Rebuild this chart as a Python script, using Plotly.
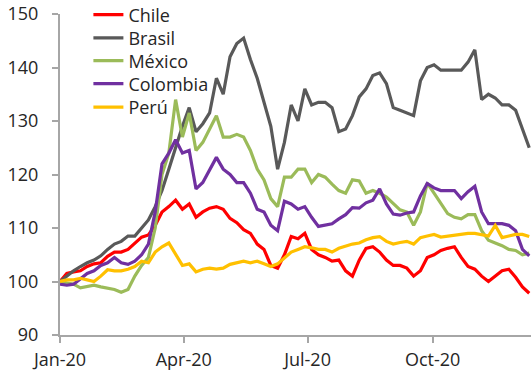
import pandas as pd
import plotly.graph_objects as go

# sampling grid: every 5 days from 1 Jan 2020
dates = pd.date_range("2020-01-01", periods=70, freq="5D")

chile = [100, 101.5, 101.8, 102, 102.8, 103.3, 103.5, 104.7, 105.5, 105.5,
         106, 107.2, 108.3, 108.7, 110.5, 113, 114, 115.2, 113.5, 114.5,
         112, 113, 113.7, 114, 113.5, 111.8, 111, 109.7, 109, 107,
         106, 103, 102.5, 105, 108.4, 108, 109, 106, 105, 104.5,
         103.8, 104, 102, 101, 104, 106.2, 106.5, 105.5, 104, 103,
         103, 102.5, 101, 102, 104.5, 105, 105.8, 106.2, 106.5, 104.5,
         102.8, 102.3, 101, 100, 101, 102, 102.3, 100.8, 99, 97.8]

brasil = [100, 101, 102, 102.8, 103.5, 104, 104.8, 106, 107, 107.5,
          108.5, 108.5, 110, 111.5, 114, 117, 121, 125, 129, 132.5,
          128, 129.5, 131.5, 138, 135, 142, 144.5, 145.5, 141.5, 138,
          133.5, 129, 121, 126, 133, 130, 136, 133, 133.5, 133.5,
          132.5, 128, 128.5, 131, 134.5, 136, 138.5, 139, 137, 132.5,
          132, 131.5, 131, 137.5, 140, 140.5, 139.5, 139.5, 139.5, 139.5,
          141, 143.3, 134, 135, 134.3, 133, 133, 132, 128.5, 125]

mexico = [100, 99.8, 99.5, 98.8, 99, 99.3, 99, 98.7, 98.5, 98,
          98.5, 101, 103, 104.5, 110, 120, 124, 134, 127, 131.5,
          124.5, 126, 128.5, 131, 127, 127, 127.5, 127, 124.5, 121,
          119, 115.5, 114, 119.5, 119.5, 121, 121, 118.5, 120, 119.5,
          118.2, 117, 116.5, 119, 118.8, 116.5, 117, 116.5, 115.8, 114.6,
          113.4, 113, 110.5, 113, 118.4, 116.5, 114.5, 112.7, 112, 111.7,
          112.5, 112.5, 109.5, 107.7, 107.2, 106.7, 106, 105.8, 105, 105.3]

colombia = [99.5, 99.3, 99.5, 100.5, 101.5, 102, 103, 103.5, 104.5, 103.5,
            103.2, 103.8, 105, 107, 113, 122, 124, 126.5, 124, 124.5,
            117.3, 118.5, 121, 123.2, 121, 120, 118.5, 118.5, 116.5, 113.5,
            113, 110.5, 109.5, 115, 114.5, 113.5, 114, 112, 110.3, 110.5,
            110.8, 111.7, 112.5, 113.8, 113.7, 114.7, 115.2, 117.3, 114.5, 112.6,
            112.4, 112.8, 113, 116, 118.3, 117.5, 117, 117, 117, 115.5,
            116.8, 117.8, 113, 110.8, 110.8, 110.8, 110.5, 109.5, 106, 104.8]

peru = [100, 100.3, 100.3, 100.6, 100.3, 100, 101, 102.2, 102, 102,
        102.3, 102.8, 103.8, 103.5, 105.5, 106.5, 107.2, 105, 103, 103.3,
        101.8, 102.3, 102.5, 102.3, 102.5, 103.2, 103.5, 103.8, 103.5, 103.8,
        103.3, 102.8, 103.3, 104.5, 105.5, 106, 106.5, 106.3, 106, 106,
        105.5, 106.2, 106.6, 107, 107.2, 107.8, 108.2, 108.4, 107.5, 107,
        107.3, 107.5, 107, 108.2, 108.5, 108.8, 108.3, 108.5, 108.7, 108.9,
        109, 109, 108.7, 108.5, 110.5, 108.2, 108.5, 108.8, 108.8, 108.4]

names = ["Chile", "Brasil", "México", "Colombia", "Perú"]
values = [chile, brasil, mexico, colombia, peru]
colors = ["#FF0000", "#595959", "#9BBB59", "#7030A0", "#FFC000"]

tick_vals = ["2020-01-01", "2020-04-01", "2020-07-01", "2020-10-01"]
tick_text = ["Jan-20", "Apr-20", "Jul-20", "Oct-20"]
y_ticks = [90, 100, 110, 120, 130, 140, 150]

font = dict(family="Open Sans, sans-serif", size=18, color="#262626")

# one single-entry legend per series so the entries sit as tightly as in the original
legend_y = [0.997, 0.925, 0.854, 0.782, 0.709]
legend_ids = ["legend", "legend2", "legend3", "legend4", "legend5"]

fig = go.Figure()
for name, vals, color, lid in zip(names, values, colors, legend_ids):
    fig.add_trace(go.Scatter(x=dates, y=vals, name=name, mode="lines",
                             line=dict(color=color, width=3.2), legend=lid))

layout_legends = {}
for lid, ly in zip(legend_ids, legend_y):
    layout_legends[lid] = dict(x=0.0603, y=ly, xanchor="left", yanchor="middle",
                               bgcolor="rgba(0,0,0,0)", font=font,
                               borderwidth=0, itemwidth=30)

fig.update_layout(
    width=531, height=377,
    margin=dict(l=60, r=0, t=14, b=42, autoexpand=False),
    plot_bgcolor="white", paper_bgcolor="white",
    font=font,
    showlegend=True,
    xaxis=dict(type="date", range=["2020-01-01", "2020-12-12 07:00"],
               tickvals=tick_vals, ticktext=tick_text,
               showgrid=False, zeroline=False,
               showline=True, linecolor="#A6A6A6", linewidth=2,
               ticks="outside", ticklen=6, tickwidth=2, tickcolor="#A6A6A6",
               ticklabelstandoff=1, automargin=False),
    yaxis=dict(range=[90, 150], tickvals=y_ticks,
               showgrid=False, zeroline=False,
               showline=True, linecolor="#A6A6A6", linewidth=2,
               ticks="outside", ticklen=6, tickwidth=2, tickcolor="#A6A6A6",
               ticklabelstandoff=10, automargin=False),
    **layout_legends,
)

fig.write_html("out.html")
